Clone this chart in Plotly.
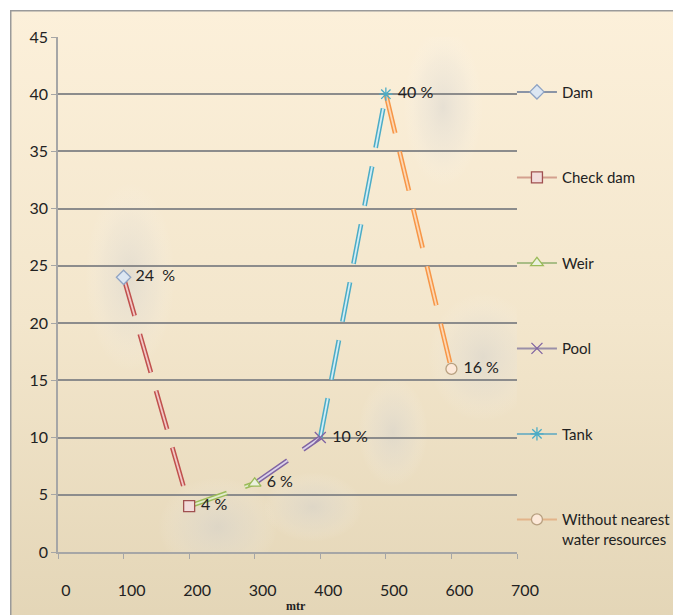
import base64
import plotly.graph_objects as go

# ---- data ----
categories = ["Dam", "Check dam", "Weir", "Pool", "Tank", "Without nearest<br>water resources"]
distance_m = [100, 200, 300, 400, 500, 600]
share_pct = [24, 4, 6, 10, 40, 16]
point_labels = ["24  %", "4 %", "6 %", "10 %", "40 %", "16 %"]
x_ticks = [0, 100, 200, 300, 400, 500, 600, 700]
y_ticks = [0, 5, 10, 15, 20, 25, 30, 35, 40, 45]

# ---- styles ----
outer_col = ["#8ea3c4", "#c0504d", "#9bbb59", "#8064a2", "#4bacc6", "#f79646"]
inner_col = ["#dbe5f1", "#f2c8c6", "#e2edcc", "#dcd3ea", "#d3edf5", "#fcd8b6"]
legend_col = ["#8a94a6", "#d3a08e", "#a9bd86", "#9a8fa8", "#7fb5c2", "#e3b489"]
mk_symbol = ["diamond", "square", "triangle-up", "x-thin-open", "asterisk-open", "circle"]
mk_fill = ["#dce6f2", "#f2dcdb", "#ebf1de", "#8064a2", "#4bacc6", "#fde9d9"]
mk_line = ["#8ea3c4", "#a05050", "#9bbb59", "#8064a2", "#4bacc6", "#b8a080"]

FONT = "Lato, Liberation Sans Narrow, sans-serif"

fig = go.Figure()

dash = "40px,19px"
for i in range(1, len(categories)):
    xs = [distance_m[i - 1], distance_m[i]]
    ys = [share_pct[i - 1], share_pct[i]]
    fig.add_trace(go.Scatter(x=xs, y=ys, mode="lines", showlegend=False, hoverinfo="skip",
                             line=dict(color=outer_col[i], width=4.8, dash=dash)))
    fig.add_trace(go.Scatter(x=xs, y=ys, mode="lines", showlegend=False, hoverinfo="skip",
                             line=dict(color=inner_col[i], width=1.8, dash=dash)))

for i, name in enumerate(categories):
    fig.add_trace(go.Scatter(
        x=[distance_m[i]], y=[share_pct[i]], name=name, legendgroup=str(i),
        mode="lines+markers+text", text=["\u00a0" + point_labels[i]], textposition="middle right",
        textfont=dict(family=FONT, size=16, color="#222222"),
        line=dict(color=legend_col[i], width=2),
        marker=dict(symbol=mk_symbol[i], size=11, color=mk_fill[i],
                    line=dict(color=mk_line[i], width=1.3)),
    ))

# background gradient (paper) and soft smudges (plot area)
bg_svg = (
    '<svg xmlns="http://www.w3.org/2000/svg" width="680" height="620" viewBox="0 0 680 620" preserveAspectRatio="none">'
    '<defs><linearGradient id="g" x1="0" y1="0" x2="0" y2="1">'
    '<stop offset="0" stop-color="#fcf0da"/><stop offset="0.5" stop-color="#f3e6cc"/>'
    '<stop offset="1" stop-color="#e3d5b6"/></linearGradient></defs>'
    '<rect x="0" y="0" width="680" height="620" fill="url(#g)" stroke="#9a9a9a" stroke-width="3"/>'
    '</svg>'
)
smudges = [(72, 240, 45, 95), (160, 490, 60, 50), (385, 70, 40, 80), (425, 320, 55, 65),
           (335, 395, 35, 55), (255, 470, 50, 35)]
sm = ''.join(
    f'<ellipse cx="{cx}" cy="{cy}" rx="{rx}" ry="{ry}" fill="url(#r)"/>' for cx, cy, rx, ry in smudges)
plot_svg = (
    '<svg xmlns="http://www.w3.org/2000/svg" width="459" height="515" viewBox="0 0 459 515" preserveAspectRatio="none">'
    '<defs><radialGradient id="r"><stop offset="0" stop-color="#d0d0d0" stop-opacity="0.45"/>'
    '<stop offset="0.6" stop-color="#e0e0e0" stop-opacity="0.2"/>'
    '<stop offset="1" stop-color="#ffffff" stop-opacity="0"/></radialGradient></defs>'
    + sm + '</svg>'
)

def uri(s):
    return "data:image/svg+xml;base64," + base64.b64encode(s.encode()).decode()

L, R, T, B = 58, 156, 37, 63
PW, PH = 673 - L - R, 615 - T - B

fig.update_layout(
    width=673, height=615,
    margin=dict(l=L, r=R, t=T, b=B, autoexpand=False),
    paper_bgcolor="white", plot_bgcolor="white",
    images=[
        dict(source=uri(bg_svg), xref="paper", yref="paper",
             x=(10 - L) / PW, y=(615 - B - 10) / PH, sizex=680 / PW, sizey=620 / PH,
             xanchor="left", yanchor="top", sizing="stretch", layer="below"),
        dict(source=uri(plot_svg), xref="x", yref="y", x=0, y=45, sizex=700, sizey=45,
             xanchor="left", yanchor="top", sizing="stretch", layer="below"),
    ],
    xaxis=dict(range=[0, 700], tickvals=x_ticks, showgrid=False, showline=True,
               linecolor="#a6a6a6", linewidth=1.5, ticks="outside", ticklen=5,
               tickcolor="#a6a6a6", tickfont=dict(family=FONT, size=16, color="#222222"),
               ticklabelstandoff=18, ticklabelshift=8, zeroline=False, fixedrange=True,
               automargin=False),
    yaxis=dict(range=[0, 45], tickvals=y_ticks, showgrid=True, gridcolor="#8c8c8c",
               gridwidth=1.8, showline=True, linecolor="#a6a6a6", linewidth=1.5,
               ticks="outside", ticklen=5, tickcolor="#a6a6a6",
               tickfont=dict(family=FONT, size=16, color="#222222"),
               zeroline=False, fixedrange=True, automargin=False),
    legend=dict(x=0.989, xanchor="left", y=0.925, yanchor="top", itemwidth=40,
                tracegroupgap=63, valign="top", bgcolor="rgba(0,0,0,0)",
                font=dict(family=FONT, size=15, color="#222222")),
    annotations=[dict(text="<b>mtr</b>", xref="paper", yref="paper", x=(296 - L) / PW,
                      y=(615 - B - 606) / PH, yanchor="middle", showarrow=False,
                      font=dict(family="Liberation Serif, serif", size=12, color="#222222"))],
)

fig.write_html("out.html", config={"displayModeBar": False},
               post_script="document.body.style.margin='0px';")
